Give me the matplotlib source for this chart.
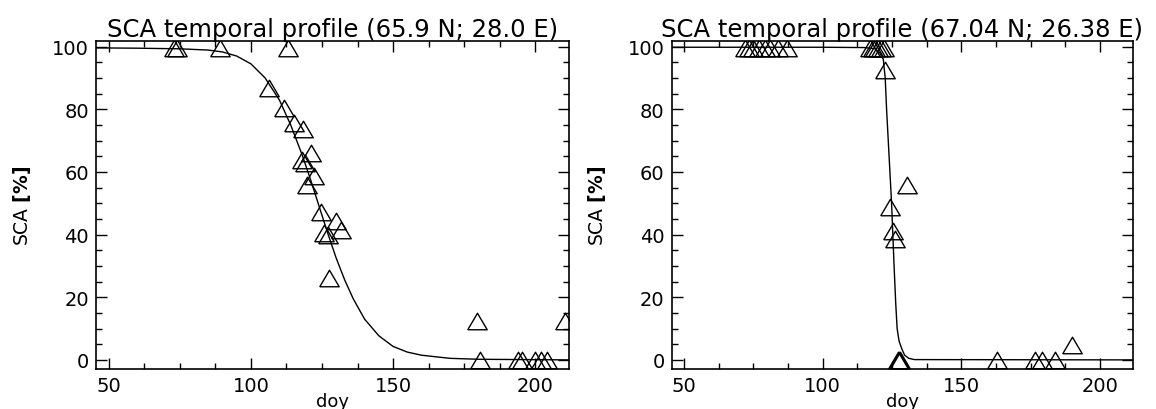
import numpy as np
import matplotlib
matplotlib.use("Agg")
import matplotlib.pyplot as plt
from matplotlib.ticker import MultipleLocator

# Pixel 1: observations and fitted curve (65.9 N; 28.0 E)
doy_a = [73, 74, 89, 113, 106.4, 111.7, 115.2, 118.5, 121, 117.9, 119, 122.2, 119.9,
         124.6, 129.8, 131.6, 125.7, 127, 127.5, 179.4, 180.6, 194, 195.5, 200, 202, 204, 210.5]
sca_a = [99.5, 99.5, 99.5, 99.5, 86.9, 80.5, 75.7, 73.8, 66.2, 63.7, 63, 58.7, 55.8,
         47.3, 44.4, 41.5, 40.6, 40, 26.3, 12.5, 0, 0, 0, 0, 0, 0, 12.5]
fit_doy_a = [45, 60, 75, 85, 90, 95, 100, 105, 110, 114, 118, 121, 124, 127, 130,
             133, 136, 140, 145, 150, 155, 160, 170, 180, 212]
fit_sca_a = [99.6, 99.5, 99.3, 98.9, 98.3, 97.0, 94.5, 90.0, 83.0, 75.0, 65.5, 57.5,
             49.0, 40.5, 32.5, 25.5, 19.5, 13.0, 7.7, 4.3, 2.5, 1.5, 0.5, 0.2, 0.0]

# Pixel 2: observations and fitted curve (67.04 N; 26.38 E)
doy_b = [72, 73.5, 75, 77, 79, 81, 84, 87, 117, 118, 119, 120, 121, 122, 122.4,
         130.2, 124.2, 125.4, 126, 127, 127.5, 128, 162.7, 176.5, 178.9, 183.7, 189.8]
sca_b = [99.5, 99.5, 99.5, 99.5, 99.5, 99.5, 99.5, 99.5, 99.5, 99.5, 99.5, 99.5, 99.5,
         99.5, 92.5, 55.8, 48.9, 41.2, 38.7, 0, 0, 0, 0, 0, 0, 0, 4.6]
fit_doy_b = [45, 100, 115, 119, 120.5, 121.8, 122.5, 123, 123.9, 124.8, 125.7, 126.3,
             126.8, 127.5, 128.5, 129.5, 131, 133, 212]
fit_sca_b = [99.8, 99.8, 99.7, 99.3, 98, 96, 90, 80, 65, 50, 30, 18, 10, 6, 3.5, 1.5,
             0.5, 0.1, 0.0]

titles = ["SCA temporal profile (65.9 N; 28.0 E)",
          "SCA temporal profile (67.04 N; 26.38 E)"]

tri = [(-1, -0.85), (0, 0.85), (1, -0.85), (-1, -0.85)]

fig = plt.figure(figsize=(11.56, 4.10), dpi=100)
ax1 = fig.add_axes([0.083, 0.0976, 0.409, 0.80])
ax2 = fig.add_axes([0.581, 0.0976, 0.399, 0.80])

panels = [(ax1, doy_a, sca_a, fit_doy_a, fit_sca_a),
          (ax2, doy_b, sca_b, fit_doy_b, fit_sca_b)]

for (ax, x, y, fx, fy), title in zip(panels, titles):
    ax.plot(fx, fy, color="black", lw=1.0)
    ax.plot(x, y, linestyle="none", marker=tri, ms=14, mfc="none", mec="black", mew=1.0)
    ax.set_xlim(45.5, 211.8)
    ax.set_ylim(-2.9, 101.8)
    ax.xaxis.set_major_locator(MultipleLocator(50))
    ax.xaxis.set_minor_locator(MultipleLocator(12.5))
    ax.yaxis.set_major_locator(MultipleLocator(20))
    ax.yaxis.set_minor_locator(MultipleLocator(5))
    ax.tick_params(which="both", direction="in", top=True, right=True, labelsize=14, pad=5)
    ax.tick_params(which="major", length=8, width=1)
    ax.tick_params(which="minor", length=4, width=1)
    for sp in ax.spines.values():
        sp.set_linewidth(1.2)
    ax.set_title(title, fontsize=17.5, pad=2)
    ax.set_xlabel("doy", fontsize=13, labelpad=-2)
    ax.set_ylabel(r"SCA $\mathbf{[\%]}$", fontsize=13.5, labelpad=14)

fig.savefig("out.png", dpi=100)
